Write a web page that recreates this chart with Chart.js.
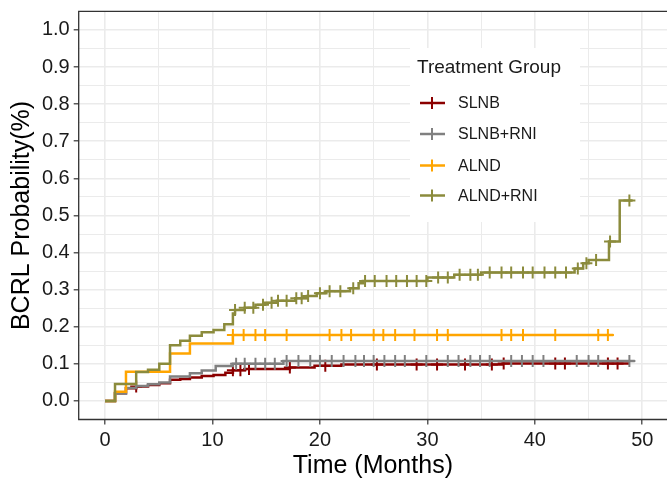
<!DOCTYPE html>
<html>
<head>
<meta charset="utf-8">
<script src="https://cdn.jsdelivr.net/npm/chart.js@4.4.1/dist/chart.umd.min.js"></script>
<style>
  body { margin: 0; background: #fff; }
  #wrap { width: 667px; height: 483px; position: relative; }
</style>
</head>
<body>
<div id="wrap"><canvas id="kmChart"></canvas></div>
<script>
// Groupes et couleurs
const groups = ['SLNB', 'SLNB+RNI', 'ALND', 'ALND+RNI'];
const colors = ['#8B0000', '#808080', '#FFA500', '#8B8B3C'];

// Courbes (temps en mois, probabilité cumulée)
const slnbTime = [0, 0.93, 1.95, 2.9, 4.0, 5.05, 6.05, 7.0, 7.9, 9.0, 10.1, 11.2, 11.9, 13.0, 17.2, 19.5, 22.0, 37.0, 48.8];
const slnbProb = [0, 0.021, 0.034, 0.039, 0.043, 0.048, 0.057, 0.059, 0.063, 0.067, 0.070, 0.076, 0.083, 0.086, 0.090, 0.095, 0.098, 0.101, 0.101];
const slnbCensor = [2.9, 11.9, 12.6, 13.4, 17.2, 20.5, 25.3, 29.0, 30.9, 33.5, 36.0, 37.1, 41.9, 42.8, 46.8, 47.7];

const slnbRniTime = [0, 0.93, 1.95, 2.9, 4.0, 5.05, 6.05, 7.9, 9.0, 10.3, 11.9, 16.6, 49.3];
const slnbRniProb = [0, 0.02, 0.035, 0.04, 0.045, 0.05, 0.066, 0.075, 0.082, 0.094, 0.10, 0.108, 0.108];
const slnbRniCensor = [12.2, 13.0, 14.0, 14.9, 15.8, 16.9, 18.0, 19.1, 20.0, 21.1, 22.2, 23.3, 24.1, 25.0, 26.0, 27.0, 27.9, 29.9, 31.9, 32.9, 34.0, 34.9, 35.8, 37.8, 38.8, 39.8, 40.8, 43.9, 45.0, 45.9, 48.8];

const alndTime = [0, 0.93, 1.95, 6.05, 7.9, 11.9, 47.3];
const alndProb = [0, 0.025, 0.079, 0.128, 0.155, 0.178, 0.178];
const alndCensor = [11.9, 12.9, 14.0, 14.9, 16.9, 20.9, 22.0, 22.9, 25.0, 25.9, 27.0, 28.8, 30.9, 31.9, 36.9, 37.8, 38.9, 41.9, 45.9, 46.8];

const alndRniTime = [0, 0.93, 2.9, 4.0, 5.05, 6.05, 7.0, 7.9, 9.0, 10.1, 11.1, 11.9, 12.1, 13.0, 14.0, 14.9, 16.0, 17.7, 18.8, 19.7, 20.6, 22.8, 23.6, 24.0, 30.0, 32.5, 35.0, 43.7, 44.5, 45.0, 46.9, 47.9, 49.1];
const alndRniProb = [0, 0.046, 0.078, 0.084, 0.10, 0.15, 0.162, 0.176, 0.185, 0.191, 0.207, 0.236, 0.245, 0.251, 0.259, 0.265, 0.27, 0.277, 0.283, 0.29, 0.296, 0.304, 0.317, 0.323, 0.333, 0.34, 0.346, 0.357, 0.371, 0.38, 0.43, 0.54, 0.54];
const alndRniCensor = [12.1, 13.0, 13.8, 14.7, 15.5, 16.1, 16.9, 17.8, 18.3, 18.9, 20.0, 20.9, 21.9, 23.1, 24.2, 25.1, 26.2, 27.1, 28.1, 29.0, 29.9, 31.0, 31.9, 33.0, 34.0, 34.7, 35.8, 36.9, 37.8, 38.9, 39.8, 40.9, 41.9, 42.9, 44.0, 44.8, 45.7, 47.0, 48.8];

// Graduations
const xTicks = [0, 5, 10, 15, 20, 25, 30, 35, 40, 45, 50];
const xLabels = ['0', '', '10', '', '20', '', '30', '', '40', '', '50'];
const yTicks = [0, 0.05, 0.1, 0.15, 0.2, 0.25, 0.3, 0.35, 0.4, 0.45, 0.5, 0.55, 0.6, 0.65, 0.7, 0.75, 0.8, 0.85, 0.9, 0.95, 1.0];
const yLabels = ['0.0', '', '0.1', '', '0.2', '', '0.3', '', '0.4', '', '0.5', '', '0.6', '', '0.7', '', '0.8', '', '0.9', '', '1.0'];

const curves = [
    { t: slnbTime, p: slnbProb, c: slnbCensor },
    { t: slnbRniTime, p: slnbRniProb, c: slnbRniCensor },
    { t: alndTime, p: alndProb, c: alndCensor },
    { t: alndRniTime, p: alndRniProb, c: alndRniCensor }
];

// valeur de la courbe en escalier au temps t
function stepValue(times, probs, t) {
    let v = probs[0];
    for (let i = 0; i < times.length; i++) {
        if (times[i] <= t + 1e-9) v = probs[i];
    }
    return v;
}

const datasets = [];
curves.forEach((cv, i) => {
    datasets.push({
        label: groups[i],
        data: cv.t.map((t, j) => ({ x: t, y: cv.p[j] })),
        borderColor: colors[i],
        borderWidth: 2.5,
        stepped: true,
        pointRadius: 0,
        fill: false,
        order: 10 - i * 2
    });
    datasets.push({
        label: groups[i] + ' censor',
        data: cv.c.map(t => ({ x: t, y: stepValue(cv.t, cv.p, t) })),
        showLine: false,
        pointStyle: 'cross',
        pointRadius: 6,
        pointBorderWidth: 2,
        pointBorderColor: colors[i],
        borderColor: colors[i],
        order: 9 - i * 2
    });
});

const FONT = "'Liberation Sans', Arial, sans-serif";

// Cadre du panneau + légende interne
const panelPlugin = {
    id: 'panel',
    afterDatasetsDraw(chart) {
        const ctx = chart.ctx;
        const a = chart.chartArea;
        // légende
        const lx = 410, ly = 48, lw = 170, lh = 174;
        ctx.save();
        ctx.fillStyle = '#fff';
        ctx.fillRect(lx, ly, lw, lh);
        ctx.fillStyle = '#1a1a1a';
        ctx.textBaseline = 'middle';
        ctx.font = '19px ' + FONT;
        ctx.fillText('Treatment Group', 417, 68);
        ctx.font = '16px ' + FONT;
        const rowY = [103, 134, 165.5, 195.5];
        groups.forEach((g, i) => {
            const y = rowY[i];
            ctx.strokeStyle = colors[i];
            ctx.lineWidth = 2.5;
            ctx.beginPath();
            ctx.moveTo(420, y);
            ctx.lineTo(445, y);
            ctx.stroke();
            ctx.lineWidth = 2;
            ctx.beginPath();
            ctx.moveTo(432, y - 6);
            ctx.lineTo(432, y + 6);
            ctx.stroke();
            ctx.fillStyle = '#1a1a1a';
            ctx.fillText(g, 458, y + 1);
        });
        // bordure
        ctx.strokeStyle = '#333';
        ctx.lineWidth = 1.3;
        ctx.beginPath();
        ctx.moveTo(a.right + 2, a.top);
        ctx.lineTo(a.left, a.top);
        ctx.lineTo(a.left, a.bottom);
        ctx.lineTo(a.right + 2, a.bottom);
        ctx.stroke();
        ctx.restore();
    }
};

new Chart(document.getElementById('kmChart'), {
    type: 'line',
    data: { datasets: datasets },
    plugins: [panelPlugin],
    options: {
        responsive: true,
        maintainAspectRatio: false,
        animation: false,
        devicePixelRatio: 1,
        layout: { autoPadding: false, padding: { top: 11.4, right: 0, left: 0, bottom: 0 } },
        plugins: {
            legend: { display: false },
            tooltip: { enabled: false }
        },
        scales: {
            x: {
                type: 'linear',
                min: -2.45,
                max: 52.3,
                afterBuildTicks: (scale) => { scale.ticks = xTicks.map(v => ({ value: v })); },
                afterFit: (scale) => {
                    scale.height = 63.5;
                    scale.paddingLeft = 0;
                    scale.paddingRight = 0;
                },
                border: { display: false },
                grid: {
                    color: '#EBEBEB',
                    lineWidth: (c) => (c.tick && c.tick.value % 10 === 0 ? 1.6 : 1),
                    tickColor: (c) => (c.tick && c.tick.value % 10 === 0 ? '#333' : 'rgba(0,0,0,0)'),
                    tickLength: 5,
                    tickWidth: 1.2
                },
                ticks: {
                    autoSkip: false,
                    maxRotation: 0,
                    padding: 4,
                    color: '#1a1a1a',
                    font: { family: FONT, size: 20 },
                    callback: (v, i) => xLabels[i]
                },
                title: {
                    display: true,
                    text: 'Time (Months)',
                    color: '#000',
                    font: { family: FONT, size: 25 },
                    padding: { top: 0, bottom: 2 }
                }
            },
            y: {
                type: 'linear',
                min: -0.05,
                max: 1.05,
                afterBuildTicks: (scale) => { scale.ticks = yTicks.map(v => ({ value: v })); },
                afterFit: (scale) => {
                    scale.width = 78.7;
                    scale.paddingTop = 0;
                    scale.paddingBottom = 0;
                },
                border: { display: false },
                grid: {
                    color: '#EBEBEB',
                    lineWidth: (c) => (c.index % 2 === 0 ? 1.6 : 1),
                    tickColor: (c) => (c.index % 2 === 0 ? '#333' : 'rgba(0,0,0,0)'),
                    tickLength: 5,
                    tickWidth: 1.2
                },
                ticks: {
                    autoSkip: false,
                    padding: 4,
                    color: '#1a1a1a',
                    font: { family: FONT, size: 20 },
                    callback: (v, i) => yLabels[i]
                },
                title: {
                    display: true,
                    text: 'BCRL Probability(%)',
                    color: '#000',
                    font: { family: FONT, size: 25 },
                    padding: { top: 7, bottom: 0 }
                }
            }
        }
    }
});
</script>
</body>
</html>
